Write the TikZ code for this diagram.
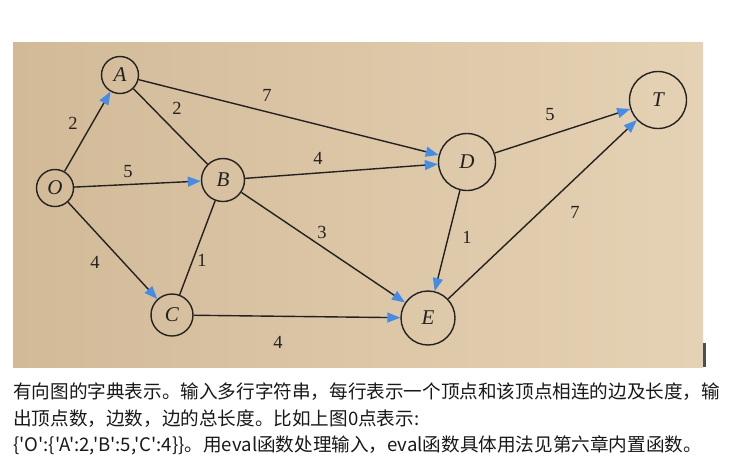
\documentclass[tikz,border=0pt]{standalone}
\usepackage{fontspec}
\setmainfont{Liberation Serif}
\newfontfamily\cjk{Noto Sans CJK SC}
\usetikzlibrary{arrows.meta}
\definecolor{paperlight}{RGB}{229,210,180}
\definecolor{paperdark}{RGB}{210,186,152}
\definecolor{ink}{RGB}{36,34,32}
\definecolor{arrowblue}{RGB}{70,140,228}
\tikzset{
  vertex/.style={circle, draw=ink, line width=1.4pt, inner sep=0pt, font=\fontsize{21}{21}\selectfont\itshape, text=ink},
  edge/.style={draw=ink, line width=1.4pt},
  dir/.style={edge, -{Triangle[length=13pt,width=10pt,fill=arrowblue,color=arrowblue]}},
  wlabel/.style={font=\fontsize{18.5}{18.5}\selectfont, text=ink, inner sep=0pt},
  caption/.style={font=\cjk\fontsize{18.6}{18.6}\selectfont, text=black!90, anchor=west, inner sep=0pt}
}
\begin{document}
\begin{tikzpicture}[x=1pt,y=-1pt]
\useasboundingbox (0,0) rectangle (738,472);
\fill[white] (0,0) rectangle (738,472);
\shade[left color=paperdark, right color=paperlight] (13,42) rectangle (703,367);
\fill[ink!80] (703,343) rectangle (706,367);

\node[vertex, minimum size=37pt] (A) at (120,75) {A};
\node[vertex, minimum size=37pt] (O) at (55,188) {O};
\node[vertex, minimum size=43pt] (B) at (223,180) {B};
\node[vertex, minimum size=42pt] (C) at (172,315) {C};
\node[vertex, minimum size=57pt] (D) at (467,162) {D};
\node[vertex, minimum size=57pt] (T) at (658,100) {T};
\node[vertex, minimum size=54pt] (E) at (428,318) {E};

\draw[dir] (O) -- (A);
\draw[dir] (O) -- (B);
\draw[dir] (O) -- (C);
\draw[edge] (A) -- (B);
\draw[dir] (A) -- (D);
\draw[dir] (B) -- (D);
\draw[edge] (C) -- (B);
\draw[dir] (B) -- (E);
\draw[dir] (C) -- (E);
\draw[dir] (D) -- (E);
\draw[dir] (D) -- (T);
\draw[dir] (E) -- (T);

\node[wlabel] (lOA) at (73,123) {2};
\node[wlabel] (lAB) at (177,108) {2};
\node[wlabel] (lAD) at (267,95) {7};
\node[wlabel] (lOB) at (128,172) {5};
\node[wlabel] (lBD) at (318,158) {4};
\node[wlabel] (lOC) at (95,262) {4};
\node[wlabel] (lCB) at (202,260) {1};
\node[wlabel] (lBE) at (322,232) {3};
\node[wlabel] (lCE) at (278,342) {4};
\node[wlabel] (lDT) at (550,115) {5};
\node[wlabel] (lDE) at (467,237) {1};
\node[wlabel] (lET) at (575,212) {7};

\node[caption] (t1) at (13,392) {有向图的字典表示。输入多行字符串，每行表示一个顶点和该顶点相连的边及长度，输};
\node[caption] (t2) at (13,418.5) {出顶点数，边数，边的总长度。比如上图0点表示:};
\node[caption] (t3) at (13,445) {\{'O':\{'A':2,'B':5,'C':4\}\}。用eval函数处理输入，eval函数具体用法见第六章内置函数。};
\end{tikzpicture}
\end{document}
